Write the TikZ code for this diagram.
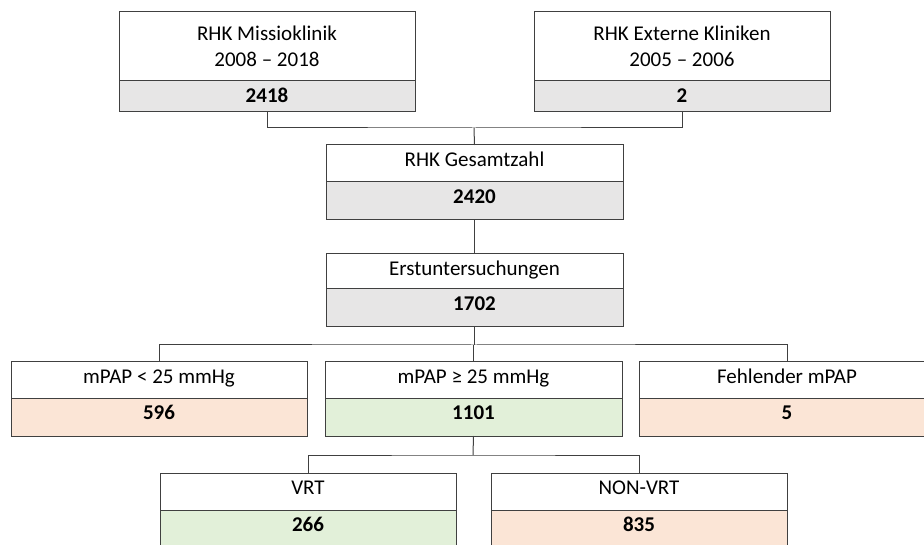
\documentclass[tikz,border=0pt]{standalone}
\usepackage{fontspec}
\setmainfont{Carlito}
\definecolor{boxgray}{HTML}{E7E6E6}
\definecolor{boxpeach}{HTML}{FBE5D6}
\definecolor{boxgreen}{HTML}{E2F0D9}
\definecolor{linec}{HTML}{404040}
\begin{document}
\begin{tikzpicture}[x=1pt,y=-1pt,
  every node/.style={font=\fontsize{21pt}{26pt}\selectfont, inner sep=0pt, outer sep=0pt},
  bigbox/.style={draw=linec, line width=1pt, fill=white, anchor=north west, align=center, minimum height=69pt},
  headbox/.style={draw=linec, line width=1pt, fill=white, anchor=north west, text height=21.5pt, text depth=#1},
  numbox/.style={draw=linec, line width=1pt, anchor=north west, text height=21.5pt, text depth=#1, font=\fontsize{21pt}{26pt}\selectfont\bfseries},
  conn/.style={draw=linec, line width=1pt}]
\useasboundingbox (0,0) rectangle (924,545);
\clip (0,0) rectangle (924,545);

% level 1
\node[bigbox, minimum width=296pt] (b1t) at (119,12) {RHK Missioklinik\\2008 -- 2018};
\node[numbox=9.5pt, minimum width=296pt, fill=boxgray] (b1n) at (b1t.south west) {2418};
\node[bigbox, minimum width=296pt] (b2t) at (534,12) {RHK Externe Kliniken\\2005 -- 2006};
\node[numbox=9.5pt, minimum width=296pt, fill=boxgray] (b2n) at (b2t.south west) {2};

% level 2
\node[headbox=15.5pt, minimum width=297pt] (b3t) at (326,145) {RHK Gesamtzahl};
\node[numbox=16.5pt, minimum width=297pt, fill=boxgray] (b3n) at (b3t.south west) {2420};

% level 3
\node[headbox=13.5pt, minimum width=297pt] (b4t) at (326,254) {Erstuntersuchungen};
\node[numbox=16.5pt, minimum width=297pt, fill=boxgray] (b4n) at (b4t.south west) {1702};

% level 4
\node[headbox=14.5pt, minimum width=296pt] (lt) at (11,362) {mPAP < 25 mmHg};
\node[numbox=16.5pt, minimum width=296pt, fill=boxpeach] (ln) at (lt.south west) {596};
\node[headbox=14.5pt, minimum width=297pt] (mt) at (325,362) {mPAP ≥ 25 mmHg};
\node[numbox=16.5pt, minimum width=297pt, fill=boxgreen] (mn) at (mt.south west) {1101};
\node[headbox=14.5pt, minimum width=296pt] (rt) at (639,362) {Fehlender mPAP};
\node[numbox=16.5pt, minimum width=296pt, fill=boxpeach] (rn) at (rt.south west) {5};

% level 5
\node[headbox=15.5pt, minimum width=296pt] (vt) at (160,473) {VRT};
\node[numbox=16.5pt, minimum width=296pt, fill=boxgreen] (vn) at (vt.south west) {266};
\node[headbox=15.5pt, minimum width=296pt] (nt) at (491,473) {NON-VRT};
\node[numbox=16.5pt, minimum width=296pt, fill=boxpeach] (nn) at (nt.south west) {835};

% connectors
\coordinate (j1) at (474,128);
\draw[conn] (b1n.south) |- (j1) -| (b2n.south);
\draw[conn] (j1) -- (b3t.north);
\draw[conn] (b3n.south) -- (b4t.north);
\coordinate (j2) at (474,345);
\draw[conn] (lt.north) |- (j2) -| (rt.north);
\draw[conn] (b4n.south) -- (b4n.south |- j2);
\draw[conn] (mt.north) -- (mt.north |- j2);
\coordinate (j3) at (473,455);
\draw[conn] (vt.north) |- (j3) -| (nt.north);
\draw[conn] (mn.south) -- (j3);
\end{tikzpicture}
\end{document}
